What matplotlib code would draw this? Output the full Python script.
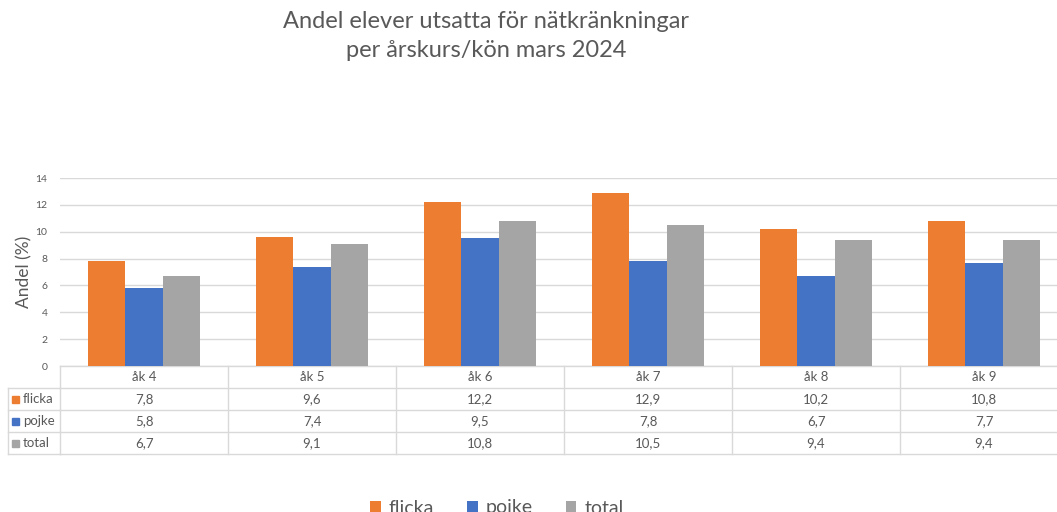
"""Andel elever utsatta för nätkränkningar - stapeldiagram med datatabell."""
import matplotlib
matplotlib.use("Agg")
import matplotlib.pyplot as plt
from matplotlib.patches import Rectangle
from matplotlib.transforms import blended_transform_factory
import numpy as np

### data
categories = ["åk 4", "åk 5", "åk 6", "åk 7", "åk 8", "åk 9"]
series_names = ["flicka", "pojke", "total"]
flicka = [7.8, 9.6, 12.2, 12.9, 10.2, 10.8]
pojke = [5.8, 7.4, 9.5, 7.8, 6.7, 7.7]
total = [6.7, 9.1, 10.8, 10.5, 9.4, 9.4]
yticks = [0, 2, 4, 6, 8, 10, 12, 14]

colors = ["#ED7D31", "#4472C4", "#A5A5A5"]
text_col = "#595959"
grid_col = "#D9D9D9"

plt.rcParams["font.family"] = ["Lato", "DejaVu Sans"]

W, H = 1057, 512
fig = plt.figure(figsize=(W / 100, H / 100), dpi=100)

def fy(py):
    return 1 - py / H

# axes: x 60..1068 px, y 178..366 px
ax = fig.add_axes([60 / W, fy(366), 1008 / W, (366 - 178) / H])
x = np.arange(len(categories))
bw = 0.222
for i, (name, vals) in enumerate(zip(series_names, [flicka, pojke, total])):
    ax.bar(x + (i - 1) * bw, vals, bw, color=colors[i], label=name, zorder=3)

ax.set_xlim(-0.5, len(categories) - 0.5)
ax.set_ylim(0, 14)
ax.set_yticks(yticks)
ax.set_yticklabels([str(t) for t in yticks], fontsize=7.5, color=text_col)
ax.set_xticks([])
ax.grid(axis="y", color=grid_col, linewidth=1, zorder=0)
ax.tick_params(axis="y", length=0, pad=9)
for s in ax.spines.values():
    s.set_visible(False)
ax.set_ylabel("Andel (%)", fontsize=12.5, color=text_col)
ax.yaxis.set_label_coords(-0.027, 0.5)

# data table below the axes
tr = blended_transform_factory(ax.transData, fig.transFigure)
rows_y = [366, 388, 410, 432, 454]
edges = np.arange(len(categories) + 1) - 0.5
lw = 1
for py in rows_y:
    ax.plot([-0.5, len(categories) - 0.5], [fy(py)] * 2, transform=tr,
            color=grid_col, lw=lw, clip_on=False)
for e in edges:
    ax.plot([e, e], [fy(366), fy(454)], transform=tr, color=grid_col,
            lw=lw, clip_on=False)
# label column at left
for py in rows_y[1:]:
    fig.add_artist(plt.Line2D([8 / W, 60 / W], [fy(py)] * 2,
                              color=grid_col, lw=lw))
fig.add_artist(plt.Line2D([8 / W, 8 / W], [fy(388), fy(454)], color=grid_col, lw=lw))

for j, cat in enumerate(categories):
    ax.text(j, fy(377), cat, transform=tr, ha="center", va="center",
            fontsize=9.5, color=text_col)
for r, (name, vals) in enumerate(zip(series_names, [flicka, pojke, total])):
    yc = fy(399 + 22 * r)
    fig.add_artist(Rectangle((12 / W, yc - 3.5 / H), 7 / W, 7 / H,
                             color=colors[r], transform=fig.transFigure))
    fig.text(23 / W, yc, name, ha="left", va="center", fontsize=9.5, color=text_col)
    for j, v in enumerate(vals):
        ax.text(j, yc, f"{v:.1f}".replace(".", ","), transform=tr,
                ha="center", va="center", fontsize=9.5, color=text_col)

fig.text(486 / W, fy(36), "Andel elever utsatta för nätkränkningar\nper årskurs/kön mars 2024",
         ha="center", va="center", fontsize=17, color=text_col, linespacing=1.5)

handles, labels = ax.get_legend_handles_labels()
fig.legend(handles, labels, loc="upper center", bbox_to_anchor=(0.47, fy(482)),
           ncol=3, frameon=False, fontsize=14, labelcolor=text_col,
           handlelength=0.55, handleheight=0.55, handletextpad=0.4, columnspacing=1.7)

fig.savefig("out.png", dpi=100)
